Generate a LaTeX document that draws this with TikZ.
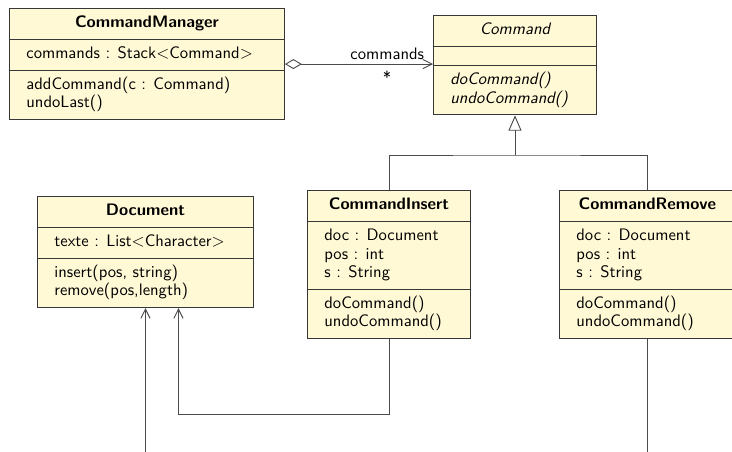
\documentclass[tikz,border=0pt]{standalone}
\usepackage{xcolor}
\usepackage{tikz}
\usetikzlibrary{arrows.meta, positioning, shapes.multipart, calc}

\definecolor{classfill}{RGB}{255,249,214}
\definecolor{classline}{RGB}{55,55,55}
\definecolor{linkline}{RGB}{75,75,75}

\begin{document}
\begin{tikzpicture}[
    x=0.65pt, y=-0.65pt,
    font=\sffamily\fontsize{10.8}{12}\selectfont,
    umlclass/.style={
        draw=classline,
        fill=classfill,
        rectangle split,
        rectangle split parts=3,
        rectangle split part align={center,left,left},
        rectangle split empty part height=2pt,
        rectangle split empty part depth=0pt,
        align=left,
        anchor=north west,
        inner xsep=11pt,
        inner ysep=3.75pt,
        line width=0.6pt
    },
    link/.style={
        draw=linkline,
        line width=0.6pt
    },
    assoc/.style={
        link,
        -{Straight Barb[length=6pt,width=6pt]}
    },
    aggreg/.style={
        link,
        {Diamond[open,length=11pt,width=6.5pt]}-{Straight Barb[length=6pt,width=6pt]}
    },
    inherit/.style={
        link,
        -{Triangle[open,length=10pt,width=8.5pt]}
    }
]
\useasboundingbox (0,0) rectangle (732,452);
\clip (0,0) rectangle (732,452);

% Invoker
\node[umlclass, minimum width=178.75pt] (mgr) at (9,8)
    {\strut\bfseries CommandManager
     \nodepart{two}\strut commands : Stack$<$Command$>$
     \nodepart{three}\strut addCommand(c : Command)\\undoLast()\strut};

% Abstract command
\node[umlclass, minimum width=106pt] (cmd) at (433,15)
    {\strut\itshape Command
     \nodepart{two}
     \nodepart{three}\strut\itshape doCommand()\\\itshape undoCommand()\strut};

% Receiver
\node[umlclass, minimum width=140.4pt] (doc) at (37,196)
    {\strut\bfseries Document
     \nodepart{two}\strut texte : List$<$Character$>$
     \nodepart{three}\strut insert(pos, string)\\remove(pos,length)\strut};

% Concrete commands
\node[umlclass, minimum width=106pt] (ins) at (307,190)
    {\strut\bfseries CommandInsert
     \nodepart{two}\strut doc : Document\\pos : int\\s : String\strut
     \nodepart{three}\strut doCommand()\\undoCommand()\strut};

\node[umlclass, minimum width=114.4pt] (rem) at (559,190)
    {\strut\bfseries CommandRemove
     \nodepart{two}\strut doc : Document\\pos : int\\s : String\strut
     \nodepart{three}\strut doCommand()\\undoCommand()\strut};

% Aggregation
\draw[aggreg] (mgr.east) -- (mgr.east -| cmd.west)
    node[pos=1, above left, inner sep=2.5pt, xshift=-3pt] {commands}
    node[pos=0.69, below, inner sep=4pt] {*};

% Generalization
\coordinate (join) at (cmd.south |- 0,155);
\draw[link] (ins.north) |- (join) -| (rem.north);
\draw[inherit] (join) -- (cmd.south);

% References to the document
\draw[assoc] (ins.south) -- ++(0,75) -| ($(doc.south)+(33,0)$);
\draw[assoc] (rem.south) -- ++(0,140) -| (doc.south);

\end{tikzpicture}
\end{document}
